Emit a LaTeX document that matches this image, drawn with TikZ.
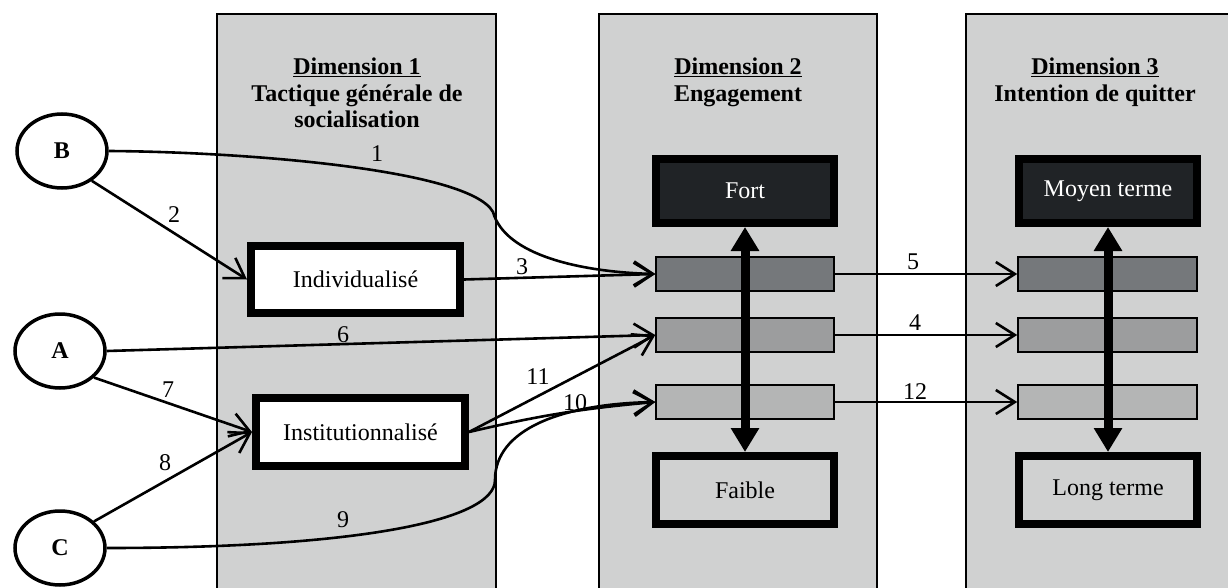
\documentclass[tikz,border=0pt]{standalone}
\usepackage{fontspec}
\setmainfont{Liberation Serif}
\usetikzlibrary{arrows.meta,shapes.geometric}
\definecolor{panelgray}{HTML}{D0D1D1}
\definecolor{fortfill}{HTML}{202326}
\definecolor{barA}{HTML}{75787B}
\definecolor{barB}{HTML}{9C9D9E}
\definecolor{barC}{HTML}{B4B5B5}
\newcommand{\bigfont}{\fontsize{24}{26.5}\selectfont}
\tikzset{
  panel/.style={fill=panelgray, draw=black, line width=1.6pt},
  actor/.style={ellipse, draw=black, line width=3.5pt, fill=white, minimum width=90pt, minimum height=74pt, inner sep=0pt, font=\bigfont\bfseries},
  thickbox/.style={draw=black, line width=8pt, outer sep=4pt, inner sep=0pt, minimum width=178pt},
  bar/.style={draw=black, line width=1.5pt, outer sep=0.75pt, minimum height=34pt, inner sep=0pt},
  conn/.style={line width=2.6pt, -{Straight Barb[length=19pt,width=24pt]}},
  dbl/.style={line width=9pt, {Triangle[length=24pt,width=27pt]}-{Triangle[length=24pt,width=27pt]}},
  lbl/.style={inner sep=0pt},
  ttl/.style={font=\bigfont\bfseries, inner sep=0pt}
}
\begin{document}
\begin{tikzpicture}[x=1pt,y=-1pt,font=\bigfont]
\clip (0,0) rectangle (1228,588);
\fill[white] (0,0) rectangle (1228,588);
% panels
\draw[panel] (217,14) rectangle (496,600);
\draw[panel] (599,14) rectangle (877,600);
\draw[panel] (966,14) rectangle (1250,600);
% titles
\node[ttl, anchor=base] (t1a) at (357,75) {\underline{Dimension 1}};
\node[ttl, anchor=base] (t1b) at (357,101.5) {Tactique générale de};
\node[ttl, anchor=base] (t1c) at (357,128) {socialisation};
\node[ttl, anchor=base] (t2a) at (738,75) {\underline{Dimension 2}};
\node[ttl, anchor=base] (t2b) at (738,101.5) {Engagement};
\node[ttl, anchor=base] (t3a) at (1095,75) {\underline{Dimension 3}};
\node[ttl, anchor=base] (t3b) at (1095,101.5) {Intention de quitter};
% actors
\node[actor] (B) at (62,151) {B};
\node[actor] (A) at (60,351) {A};
\node[actor] (C) at (60,548) {C};
% dimension 1 boxes
\node[thickbox, fill=white, minimum width=209pt, minimum height=67pt] (ind) at (355.5,279.5) {Individualisé};
\node[thickbox, fill=white, minimum width=209pt, minimum height=68pt] (inst) at (360.5,432) {Institutionnalisé};
% dimension 2
\node[thickbox, fill=fortfill, text=white, minimum height=64pt] (fort) at (745,191) {Fort};
\node[thickbox, fill=panelgray, minimum height=68pt] (faible) at (745,490) {Faible};
\node[bar, fill=barA, minimum width=178pt] (b21) at (745,274) {};
\node[bar, fill=barB, minimum width=178pt] (b22) at (745,335) {};
\node[bar, fill=barC, minimum width=178pt] (b23) at (745,402) {};
% dimension 3
\node[thickbox, fill=fortfill, text=white, minimum height=64pt] (moyen) at (1108,191) {Moyen terme};
\node[thickbox, fill=panelgray, minimum height=68pt] (long) at (1108,490) {Long terme};
\node[bar, fill=barA, minimum width=179pt] (b31) at (1107.5,274) {};
\node[bar, fill=barB, minimum width=179pt] (b32) at (1107.5,335) {};
\node[bar, fill=barC, minimum width=179pt] (b33) at (1107.5,402) {};
% double arrows
\draw[dbl] (fort.south) -- (faible.north);
\draw[dbl] (moyen.south) -- (long.north);
% connectors
\draw[conn] (B.east) .. controls (250,152) and (470,170) .. (493,212) .. controls (505,255) and (580,272) .. (b21.west);
\draw[conn] (B.-45) -- (ind.west);
\draw[conn] (ind.east) -- (b21.west);
\draw[conn] (A.east) -- (b22.west);
\draw[conn] (A.-38) -- (inst.west);
\draw[conn] (C.38) -- (inst.west);
\draw[conn] (C.east) .. controls (350,548) and (495,522) .. (495,480) .. controls (495,430) and (560,404) .. (b23.west);
\draw[conn] (inst.east) to[bend left=4] (b23.west);
\draw[conn] (inst.east) -- (b22.west);
\draw[conn] (b21.east) -- (b31.west);
\draw[conn] (b22.east) -- (b32.west);
\draw[conn] (b23.east) -- (b33.west);
% labels
\node[lbl] (l1) at (377,154) {1};
\node[lbl] (l2) at (174,215) {2};
\node[lbl] (l3) at (522,267) {3};
\node[lbl] (l6) at (343,335) {6};
\node[lbl] (l7) at (168,390) {7};
\node[lbl] (l8) at (165,463) {8};
\node[lbl] (l9) at (343,520) {9};
\node[lbl] (l10) at (575,403) {10};
\node[lbl] (l11) at (538,377) {11};
\node[lbl] (l5) at (913,262) {5};
\node[lbl] (l4) at (915,323) {4};
\node[lbl] (l12) at (915,392) {12};
\end{tikzpicture}
\end{document}
